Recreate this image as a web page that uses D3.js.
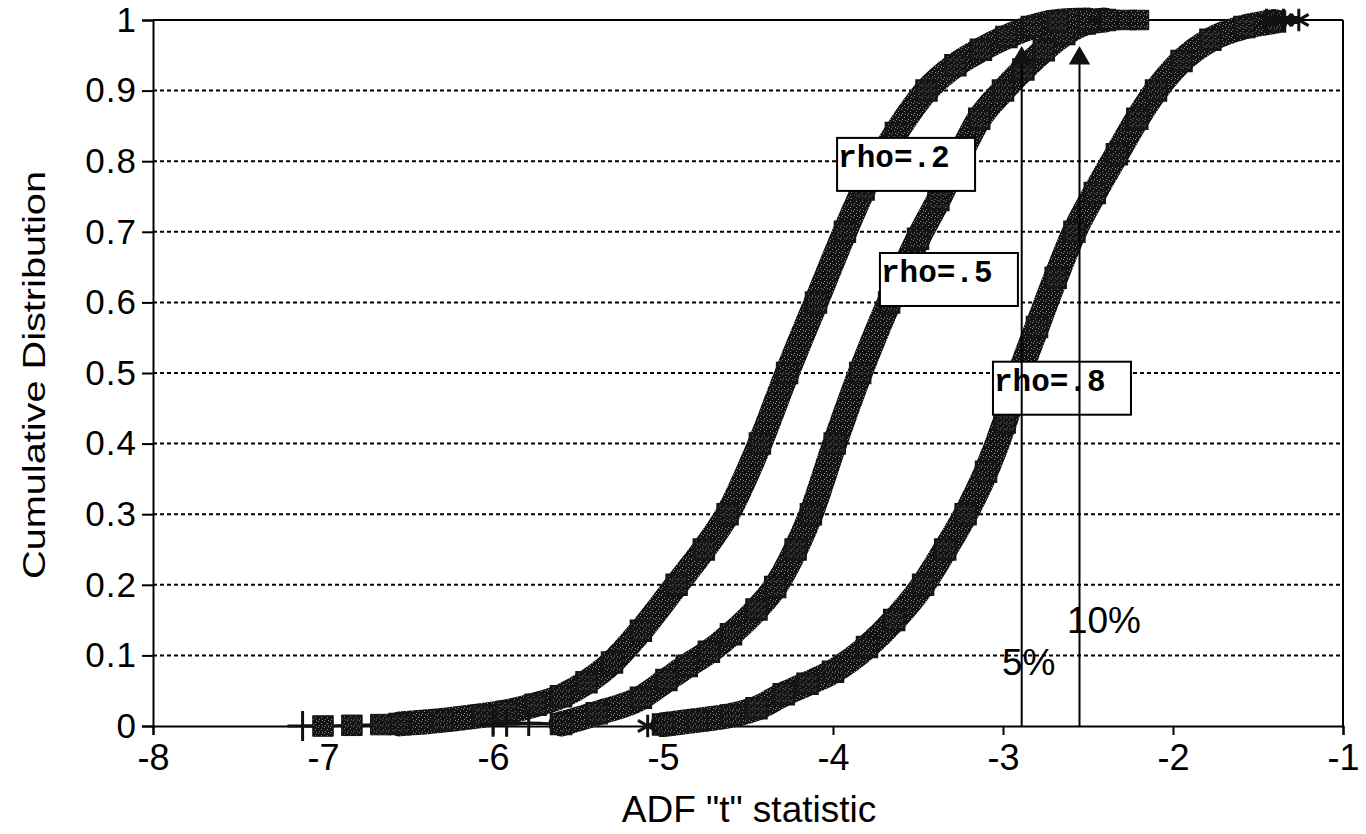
<!DOCTYPE html>
<html>
<head>
<meta charset="utf-8">
<script src="https://cdn.jsdelivr.net/npm/d3@7"></script>
<style>
  body { margin: 0; background: #fff; }
  svg { display: block; }
</style>
</head>
<body>
<svg id="chart" width="1366" height="834"></svg>
<script>
var chartWidth = 1366;
var chartHeight = 834;

/********
 * Data *
 ********/

var xTicks = [-8, -7, -6, -5, -4, -3, -2, -1];
var yTicks = [0, 0.1, 0.2, 0.3, 0.4, 0.5, 0.6, 0.7, 0.8, 0.9, 1];
var yTickLabels = ["0", "0.1", "0.2", "0.3", "0.4", "0.5", "0.6", "0.7", "0.8", "0.9", "1"];

var rho2Body = [[-6.55, 0.003], [-6.3, 0.008], [-6.06, 0.015], [-5.92, 0.02], [-5.75, 0.03],
  [-5.6, 0.042], [-5.45, 0.062], [-5.3, 0.09], [-5.13, 0.135], [-4.92, 0.2], [-4.76, 0.25],
  [-4.62, 0.3], [-4.43, 0.4], [-4.27, 0.5], [-4.1, 0.6], [-3.93, 0.7], [-3.82, 0.76],
  [-3.63, 0.84], [-3.45, 0.9], [-3.28, 0.936], [-3.13, 0.958], [-2.98, 0.976], [-2.83, 0.99],
  [-2.68, 0.998], [-2.5, 1]];
var rho2Tail = [[-7.12, 0], [-7.0, 0], [-6.83, 0.001], [-6.66, 0.002]];
var rho2Top = [[-2.37, 1], [-2.27, 1], [-2.2, 1]];

var rho5Body = [[-5.6, 0.003], [-5.39, 0.018], [-5.13, 0.04], [-4.98, 0.065], [-4.86, 0.085],
  [-4.73, 0.105], [-4.6, 0.13], [-4.45, 0.165], [-4.34, 0.197], [-4.22, 0.25], [-4.13, 0.3],
  [-3.99, 0.4], [-3.84, 0.5], [-3.67, 0.6], [-3.5, 0.69], [-3.38, 0.745],
  [-3.27, 0.8], [-3.14, 0.86], [-3.0, 0.9], [-2.88, 0.93], [-2.76, 0.957], [-2.64, 0.98],
  [-2.52, 0.995], [-2.4, 1]];
var rho5Tail = [[-6.0, 0.003], [-5.92, 0.003], [-5.79, 0.004]];

var rho8Body = [[-5.0, 0.002], [-4.8, 0.008], [-4.6, 0.015], [-4.45, 0.025], [-4.29, 0.045],
  [-4.15, 0.06], [-4.0, 0.077], [-3.8, 0.112], [-3.64, 0.15], [-3.47, 0.2], [-3.34, 0.25],
  [-3.22, 0.3], [-3.1, 0.36], [-2.99, 0.43], [-2.9, 0.5], [-2.8, 0.565], [-2.69, 0.635],
  [-2.58, 0.7], [-2.46, 0.755], [-2.33, 0.81], [-2.21, 0.86], [-2.1, 0.9], [-1.95, 0.942],
  [-1.78, 0.972], [-1.58, 0.99], [-1.4, 0.998]];
var rho8Tail = [[-5.09, 0]];
var rho8Top = [[-1.45, 1], [-1.35, 1], [-1.26, 1]];

// series labels: text, left edge (t), top edge (share)
var seriesLabels = [
  { text: "rho=.2", x: -3.976, y: 0.833 },
  { text: "rho=.5", x: -3.724, y: 0.67 },
  { text: "rho=.8", x: -3.059, y: 0.516 }
];

// critical values
var critValues = [
  { name: "5%", t: -2.89, top: 0.94, labelX: -3.006, labelY: 0.072 },
  { name: "10%", t: -2.55, top: 0.94, labelX: -2.624, labelY: 0.132 }
];

/**********
 * Scales *
 **********/

var x = d3.scaleLinear().domain([-8, -1]).range([153, 1343]);
var y = d3.scaleLinear().domain([0, 1]).range([726, 20]);

var svg = d3.select("#chart");
var font = "'Liberation Sans', Arial, sans-serif";

// speckled ink for the dense marker bands
var defs = svg.append("defs");
var pat = defs.append("pattern")
    .attr("id", "speck")
    .attr("patternUnits", "userSpaceOnUse")
    .attr("width", 6)
    .attr("height", 6);
pat.append("rect").attr("width", 6).attr("height", 6).attr("fill", "#121212");
[[1, 1], [4, 3], [2, 5], [5, 0]].forEach(function(p) {
  pat.append("rect").attr("x", p[0]).attr("y", p[1])
      .attr("width", 1).attr("height", 1).attr("fill", "#8a8a8a");
});

/*************
 * Gridlines *
 *************/

svg.append("g").selectAll("line")
    .data(yTicks.filter(function(d) { return d > 0 && d < 1; }))
    .enter().append("line")
    .attr("x1", x(-8))
    .attr("x2", x(-1))
    .attr("y1", function(d) { return y(d); })
    .attr("y2", function(d) { return y(d); })
    .attr("stroke", "#000")
    .attr("stroke-width", 2)
    .attr("stroke-dasharray", "4 3");

// frame top and right
svg.append("line").attr("x1", x(-8)).attr("x2", x(-1)).attr("y1", y(1)).attr("y2", y(1))
    .attr("stroke", "#000").attr("stroke-width", 2);
svg.append("line").attr("x1", x(-1)).attr("x2", x(-1)).attr("y1", y(1)).attr("y2", y(0))
    .attr("stroke", "#000").attr("stroke-width", 2);

/********
 * Axes *
 ********/

var xAxis = d3.axisBottom(x)
    .tickValues(xTicks)
    .tickSize(9)
    .tickPadding(9)
    .tickFormat(function(d) { return String(d); });

var yAxis = d3.axisLeft(y)
    .tickValues(yTicks)
    .tickSize(11)
    .tickPadding(5)
    .tickFormat(function(d, i) { return yTickLabels[i]; });

var xAxisGroup = svg.append("g")
    .attr("transform", "translate(0," + y(0) + ")")
    .call(xAxis);
xAxisGroup.selectAll("text").style("font-family", font).style("font-size", "36px").attr("fill", "#000");

var yAxisGroup = svg.append("g")
    .attr("transform", "translate(" + x(-8) + ",0)")
    .call(yAxis);
yAxisGroup.selectAll("text").style("font-family", font).style("font-size", "35px")
    .style("letter-spacing", "1px").attr("fill", "#000");

svg.selectAll(".domain, .tick line").attr("stroke", "#000").attr("stroke-width", 2);

/**********
 * Curves *
 **********/

var line = d3.line()
    .x(function(d) { return x(d[0]); })
    .y(function(d) { return y(d[1]); })
    .curve(d3.curveMonotoneX);

function drawSeries(tail, body, symbolType, symbolSize) {
  // thin line through the sparse tail into the band
  svg.append("path")
      .datum(tail.concat([body[0]]))
      .attr("d", line)
      .attr("fill", "none")
      .attr("stroke", "#111")
      .attr("stroke-width", 3);

  svg.append("path")
      .datum(body)
      .attr("d", line)
      .attr("fill", "none")
      .attr("stroke", "url(#speck)")
      .attr("stroke-width", 25)
      .attr("stroke-linecap", "round")
      .attr("stroke-linejoin", "round");

  // markers along the band edge
  svg.append("g").selectAll("path")
      .data(body)
      .enter().append("path")
      .attr("transform", function(d) { return "translate(" + x(d[0]) + "," + y(d[1]) + ")"; })
      .attr("d", d3.symbol().type(symbolType).size(symbolSize))
      .attr("fill", "url(#speck)")
      .attr("stroke", "#161616")
      .attr("stroke-width", 2);
}

var plusType = d3.symbolPlus || d3.symbolCross;
var starType = d3.symbolAsterisk || d3.symbolCross;

drawSeries(rho8Tail, rho8Body, d3.symbolSquare, 420);
drawSeries(rho5Tail, rho5Body, d3.symbolSquare, 420);
drawSeries(rho2Tail, rho2Body, d3.symbolSquare, 420);

function drawMarkers(points, symbolType, size, filled) {
  svg.append("g").selectAll("path")
      .data(points)
      .enter().append("path")
      .attr("transform", function(d) { return "translate(" + x(d[0]) + "," + y(d[1]) + ")"; })
      .attr("d", d3.symbol().type(symbolType).size(size))
      .attr("fill", filled ? "url(#speck)" : "none")
      .attr("stroke", "#111")
      .attr("stroke-width", filled ? 1 : 3);
}

// tail markers
drawMarkers(rho2Tail.slice(0, 1), plusType, 300, false);
drawMarkers(rho2Tail.slice(1), d3.symbolSquare, 420, true);
drawMarkers(rho5Tail, plusType, 220, false);
drawMarkers(rho8Tail, starType, 360, false);
svg.append("path")
    .datum(rho2Body.slice(-1).concat(rho2Top))
    .attr("d", line)
    .attr("fill", "none")
    .attr("stroke", "#111")
    .attr("stroke-width", 5);
drawMarkers(rho2Top, d3.symbolSquare, 380, true);
svg.append("path")
    .datum(rho8Body.slice(-1).concat(rho8Top))
    .attr("d", line)
    .attr("fill", "none")
    .attr("stroke", "#111")
    .attr("stroke-width", 8);
drawMarkers(rho8Top, starType, 360, false);

/**********
 * Labels *
 **********/

var labelGroup = svg.append("g").selectAll("g")
    .data(seriesLabels)
    .enter().append("g")
    .attr("transform", function(d) { return "translate(" + x(d.x) + "," + y(d.y) + ")"; });

labelGroup.append("rect")
    .attr("width", 138)
    .attr("height", 53)
    .attr("fill", "#fff")
    .attr("stroke", "#000")
    .attr("stroke-width", 2);

labelGroup.append("text")
    .attr("x", 1)
    .attr("y", 29)
    .style("font-family", "'Liberation Mono', 'Courier New', monospace")
    .style("font-weight", "bold")
    .style("font-size", "31px")
    .text(function(d) { return d.text; });

// critical value lines with arrowheads
var crit = svg.append("g").selectAll("g")
    .data(critValues)
    .enter().append("g");

crit.append("line")
    .attr("x1", function(d) { return x(d.t); })
    .attr("x2", function(d) { return x(d.t); })
    .attr("y1", y(0))
    .attr("y2", function(d) { return y(d.top); })
    .attr("stroke", "#000")
    .attr("stroke-width", 2);

crit.append("path")
    .attr("transform", function(d) { return "translate(" + x(d.t) + "," + (y(d.top) - 4) + ")"; })
    .attr("d", d3.symbol().type(d3.symbolTriangle).size(200))
    .attr("fill", "#111");

crit.append("text")
    .attr("x", function(d) { return x(d.labelX); })
    .attr("y", function(d) { return y(d.labelY); })
    .style("font-family", font)
    .style("font-size", "37px")
    .text(function(d) { return d.name; });

// axis titles
svg.append("text")
    .attr("x", 749)
    .attr("y", 822)
    .attr("text-anchor", "middle")
    .style("font-family", font)
    .style("font-size", "37px")
    .text("ADF \"t\" statistic");

svg.append("text")
    .attr("transform", "translate(45,375) rotate(-90)")
    .attr("text-anchor", "middle")
    .attr("textLength", 408)
    .attr("lengthAdjust", "spacingAndGlyphs")
    .style("font-family", font)
    .style("font-size", "32px")
    .text("Cumulative Distribution");
</script>
</body>
</html>
